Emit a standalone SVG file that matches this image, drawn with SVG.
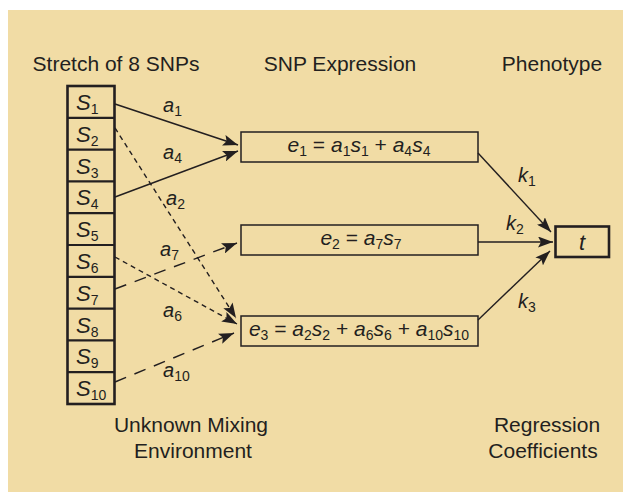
<svg xmlns="http://www.w3.org/2000/svg" width="623" height="492" viewBox="0 0 623 492">
  <style>
    text { font-family: "Liberation Sans", Arial, sans-serif; fill: #231f20; }
    .hdr { font-size: 21px; text-anchor: middle; }
    .cell { font-size: 22px; font-style: italic; }
    .lbl { font-size: 20px; font-style: italic; }
    .eq { font-size: 21px; text-anchor: middle; }
    .it { font-style: italic; }
    .sub { font-size: 14px; font-style: normal; }
    .box { fill: none; stroke: #231f20; stroke-width: 1.5; }
    .thick { fill: none; stroke: #231f20; stroke-width: 2.6; }
    .sep { stroke: #231f20; stroke-width: 2.2; }
    .wire { fill: none; stroke: #231f20; stroke-width: 1.4; marker-end: url(#head); }
    .short { stroke-dasharray: 5 4; }
    .long { stroke-dasharray: 12 9; }
  </style>
  <defs>
    <marker id="head" viewBox="0 0 15 11" refX="15" refY="5.5" markerWidth="15" markerHeight="11" markerUnits="userSpaceOnUse" orient="auto">
      <path d="M0,0 L15,5.5 L0,11 L3,5.5 z" fill="#231f20"/>
    </marker>
  </defs>

  <rect x="8" y="10" width="615" height="482" fill="#f1dca5"/>

  <!-- column headers -->
  <text class="hdr" x="116" y="71">Stretch of 8 SNPs</text>
  <text class="hdr" x="340" y="71">SNP Expression</text>
  <text class="hdr" x="552" y="71">Phenotype</text>

  <!-- footer captions -->
  <text class="hdr" x="191" y="432">Unknown Mixing</text>
  <text class="hdr" x="193" y="458">Environment</text>
  <text class="hdr" x="547" y="432">Regression</text>
  <text class="hdr" x="543" y="458">Coefficients</text>

  <!-- SNP column -->
  <g id="snps">
    <rect class="thick" x="67.5" y="86" width="47" height="318"/>
    <line class="sep" x1="67.5" y1="117.8" x2="114.5" y2="117.8"/>
    <line class="sep" x1="67.5" y1="149.6" x2="114.5" y2="149.6"/>
    <line class="sep" x1="67.5" y1="181.4" x2="114.5" y2="181.4"/>
    <line class="sep" x1="67.5" y1="213.2" x2="114.5" y2="213.2"/>
    <line class="sep" x1="67.5" y1="245" x2="114.5" y2="245"/>
    <line class="sep" x1="67.5" y1="276.8" x2="114.5" y2="276.8"/>
    <line class="sep" x1="67.5" y1="308.6" x2="114.5" y2="308.6"/>
    <line class="sep" x1="67.5" y1="340.4" x2="114.5" y2="340.4"/>
    <line class="sep" x1="67.5" y1="372.2" x2="114.5" y2="372.2"/>
    <text class="cell" x="76" y="110">S<tspan class="sub" dy="4">1</tspan></text>
    <text class="cell" x="76" y="142">S<tspan class="sub" dy="4">2</tspan></text>
    <text class="cell" x="76" y="174">S<tspan class="sub" dy="4">3</tspan></text>
    <text class="cell" x="76" y="205">S<tspan class="sub" dy="4">4</tspan></text>
    <text class="cell" x="76" y="237">S<tspan class="sub" dy="4">5</tspan></text>
    <text class="cell" x="76" y="269">S<tspan class="sub" dy="4">6</tspan></text>
    <text class="cell" x="76" y="301">S<tspan class="sub" dy="4">7</tspan></text>
    <text class="cell" x="76" y="333">S<tspan class="sub" dy="4">8</tspan></text>
    <text class="cell" x="76" y="364">S<tspan class="sub" dy="4">9</tspan></text>
    <text class="cell" x="76" y="396">S<tspan class="sub" dy="4">10</tspan></text>
  </g>

  <!-- expression nodes -->
  <g id="e1">
    <rect class="box" x="241" y="132" width="237" height="30"/>
    <text class="eq" x="359" y="152"><tspan class="it">e</tspan><tspan class="sub" dy="4">1</tspan><tspan dy="-4"> = </tspan><tspan class="it">a</tspan><tspan class="sub" dy="4">1</tspan><tspan class="it" dy="-4">s</tspan><tspan class="sub" dy="4">1</tspan><tspan dy="-4"> + </tspan><tspan class="it">a</tspan><tspan class="sub" dy="4">4</tspan><tspan class="it" dy="-4">s</tspan><tspan class="sub" dy="4">4</tspan></text>
  </g>
  <g id="e2">
    <rect class="box" x="241" y="225" width="237" height="30"/>
    <text class="eq" x="361" y="245"><tspan class="it">e</tspan><tspan class="sub" dy="4">2</tspan><tspan dy="-4"> = </tspan><tspan class="it">a</tspan><tspan class="sub" dy="4">7</tspan><tspan class="it" dy="-4">s</tspan><tspan class="sub" dy="4">7</tspan></text>
  </g>
  <g id="e3">
    <rect class="box" x="241" y="316" width="237" height="30"/>
    <text class="eq" x="359" y="336"><tspan class="it">e</tspan><tspan class="sub" dy="4">3</tspan><tspan dy="-4"> = </tspan><tspan class="it">a</tspan><tspan class="sub" dy="4">2</tspan><tspan class="it" dy="-4">s</tspan><tspan class="sub" dy="4">2</tspan><tspan dy="-4"> + </tspan><tspan class="it">a</tspan><tspan class="sub" dy="4">6</tspan><tspan class="it" dy="-4">s</tspan><tspan class="sub" dy="4">6</tspan><tspan dy="-4"> + </tspan><tspan class="it">a</tspan><tspan class="sub" dy="4">10</tspan><tspan class="it" dy="-4">s</tspan><tspan class="sub" dy="4">10</tspan></text>
  </g>

  <!-- phenotype node -->
  <g id="t">
    <rect class="thick" x="555.5" y="226.5" width="53.5" height="30.5"/>
    <text x="582" y="250" font-size="22" font-style="italic" text-anchor="middle">t</text>
  </g>

  <!-- connectors -->
  <g id="connectors">
    <path class="wire" d="M115,104 L238,145"/>
    <path class="wire" d="M115,197 L238,151"/>
    <path class="wire short" d="M115,128 L236,318"/>
    <path class="wire short" d="M115,257 L237,324"/>
    <path class="wire long" d="M115,289 L237,243"/>
    <path class="wire long" d="M115,382 L234,333"/>
    <path class="wire" d="M478,153 L551,232"/>
    <path class="wire" d="M478,242 L553,242"/>
    <path class="wire" d="M478,320 L550,251"/>
  </g>

  <!-- connector labels -->
  <g id="labels">
    <text class="lbl" x="163" y="112">a<tspan class="sub" dy="4">1</tspan></text>
    <text class="lbl" x="163" y="159">a<tspan class="sub" dy="4">4</tspan></text>
    <text class="lbl" x="166" y="205">a<tspan class="sub" dy="4">2</tspan></text>
    <text class="lbl" x="160" y="256">a<tspan class="sub" dy="4">7</tspan></text>
    <text class="lbl" x="163" y="317">a<tspan class="sub" dy="4">6</tspan></text>
    <text class="lbl" x="163" y="377">a<tspan class="sub" dy="4">10</tspan></text>
    <text class="lbl" x="518" y="182">k<tspan class="sub" dy="4">1</tspan></text>
    <text class="lbl" x="506" y="230">k<tspan class="sub" dy="4">2</tspan></text>
    <text class="lbl" x="518" y="308">k<tspan class="sub" dy="4">3</tspan></text>
  </g>
</svg>
